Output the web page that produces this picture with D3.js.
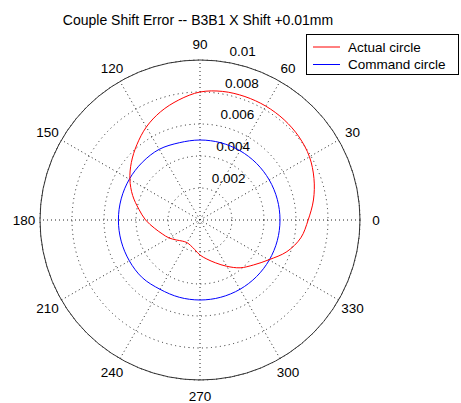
<!DOCTYPE html>
<html>
<head>
<meta charset="utf-8">
<script src="https://cdn.jsdelivr.net/npm/d3@7/dist/d3.min.js"></script>
<style>
  body { margin: 0; background: #fff; }
  svg { display: block; }
  text { font-family: "Liberation Sans", Arial, sans-serif; font-size: 13.5px; fill: #000; }
</style>
</head>
<body>
<svg id="chart" width="461" height="403"></svg>
<script>
const title = "Couple Shift Error -- B3B1 X Shift +0.01mm";
const ringValues = [0.002, 0.004, 0.006, 0.008, 0.01];
const ringLabels = ["0.002", "0.004", "0.006", "0.008", "0.01"];
const spokeAngles = [30, 60, 90, 120, 150, 180];
const angleLabels = [0, 30, 60, 90, 120, 150, 180, 210, 240, 270, 300, 330];
const seriesNames = ["Actual circle", "Command circle"];
const seriesColors = ["#ff0000", "#0000ff"];

// Actual circle (angle in degrees, radius value)
const actualAngles = [0, 10, 20, 30, 40, 50, 60, 70, 80, 90, 100, 110, 120, 130, 140, 150, 160, 170, 180, 190, 200, 210, 220, 230, 240, 250, 260, 270, 280, 290, 300, 310, 320, 330, 340, 350];
const actualValues = [0.00676, 0.00720, 0.00758, 0.00790, 0.00808, 0.00818, 0.00822, 0.00821, 0.00816, 0.00800, 0.00762, 0.00720, 0.00671, 0.00614, 0.00560, 0.00506, 0.00448, 0.00388, 0.00340, 0.00290, 0.00252, 0.00224, 0.00194, 0.00172, 0.00163, 0.00170, 0.00188, 0.00219, 0.00248, 0.00285, 0.00334, 0.00390, 0.00437, 0.00497, 0.00578, 0.00640];

// Command circle
const commandAngles = [0, 15, 30, 45, 60, 75, 90, 105, 120, 135, 150, 165, 180, 195, 210, 225, 240, 255, 270, 285, 300, 315, 330, 345];
const commandValues = [0.0050, 0.0050, 0.0050, 0.0050, 0.0050, 0.0050, 0.0050, 0.0050, 0.0051, 0.0051, 0.0051, 0.0051, 0.0051, 0.0051, 0.0051, 0.0051, 0.0050, 0.0050, 0.0050, 0.0050, 0.0050, 0.0050, 0.0050, 0.0050];

const cx = 200, cy = 220, R = 160;
const svg = d3.select("#chart");
const r = d3.scaleLinear().domain([0, 0.01]).range([0, R]);
const toRad = d => d * Math.PI / 180;

svg.append("text").attr("x", 198).attr("y", 25).attr("text-anchor", "middle")
  .style("font-size", "14px").text(title);

const g = svg.append("g").attr("transform", `translate(${cx},${cy})`);

g.append("circle").attr("r", R).attr("fill", "#fff").attr("stroke", "none");

// dotted rings
g.selectAll("circle.ring").data(ringValues).enter().append("circle")
  .attr("class", "ring").attr("r", d => r(d)).attr("fill", "none")
  .attr("stroke", "#222").attr("stroke-width", 1).attr("stroke-dasharray", "1,3.5");

// spokes
g.selectAll("line.spoke").data(spokeAngles).enter().append("line")
  .attr("x1", d => -R * Math.cos(toRad(d))).attr("y1", d => R * Math.sin(toRad(d)))
  .attr("x2", d => R * Math.cos(toRad(d))).attr("y2", d => -R * Math.sin(toRad(d)))
  .attr("stroke", "#222").attr("stroke-width", 1).attr("stroke-dasharray", "1,3");

// outer ring solid
g.append("circle").attr("r", R).attr("fill", "none").attr("stroke", "#333").attr("stroke-width", 1);

// ring labels at 82 degrees
const a82 = toRad(82);
g.selectAll("text.rl").data(ringValues).enter().append("text")
  .attr("x", (d) => (r(d) + R / 100) * Math.cos(a82) + 7)
  .attr("y", (d) => -(r(d) + R / 100) * Math.sin(a82) - 4)
  .text((d, i) => ringLabels[i]);

// angle labels
g.selectAll("text.al").data(angleLabels).enter().append("text")
  .attr("x", d => 1.1 * R * Math.cos(toRad(d)))
  .attr("y", d => -1.1 * R * Math.sin(toRad(d)) + 5)
  .attr("text-anchor", "middle")
  .text(d => d);

function radialPath(angles, values) {
  const pts = angles.map((a, i) => [a, values[i]]);
  return d3.lineRadial()
    .angle(p => Math.PI / 2 - toRad(p[0]))
    .radius(p => r(p[1]))
    .curve(d3.curveCatmullRomClosed)(pts);
}

g.append("path").attr("d", radialPath(commandAngles, commandValues))
  .attr("fill", "none").attr("stroke", seriesColors[1]).attr("stroke-width", 1);
g.append("path").attr("d", radialPath(actualAngles, actualValues))
  .attr("fill", "none").attr("stroke", seriesColors[0]).attr("stroke-width", 1);

// legend
const lg = svg.append("g");
lg.append("rect").attr("x", 306.5).attr("y", 34.5).attr("width", 152).attr("height", 40)
  .attr("fill", "#fff").attr("stroke", "#000").attr("stroke-width", 1);
seriesNames.forEach((name, i) => {
  const y = 47 + i * 17.5;
  lg.append("line").attr("x1", 313).attr("x2", 340).attr("y1", y).attr("y2", y)
    .attr("stroke", seriesColors[i]).attr("stroke-width", 1);
  lg.append("text").attr("x", 348).attr("y", y + 4.5).text(name);
});
</script>
</body>
</html>
